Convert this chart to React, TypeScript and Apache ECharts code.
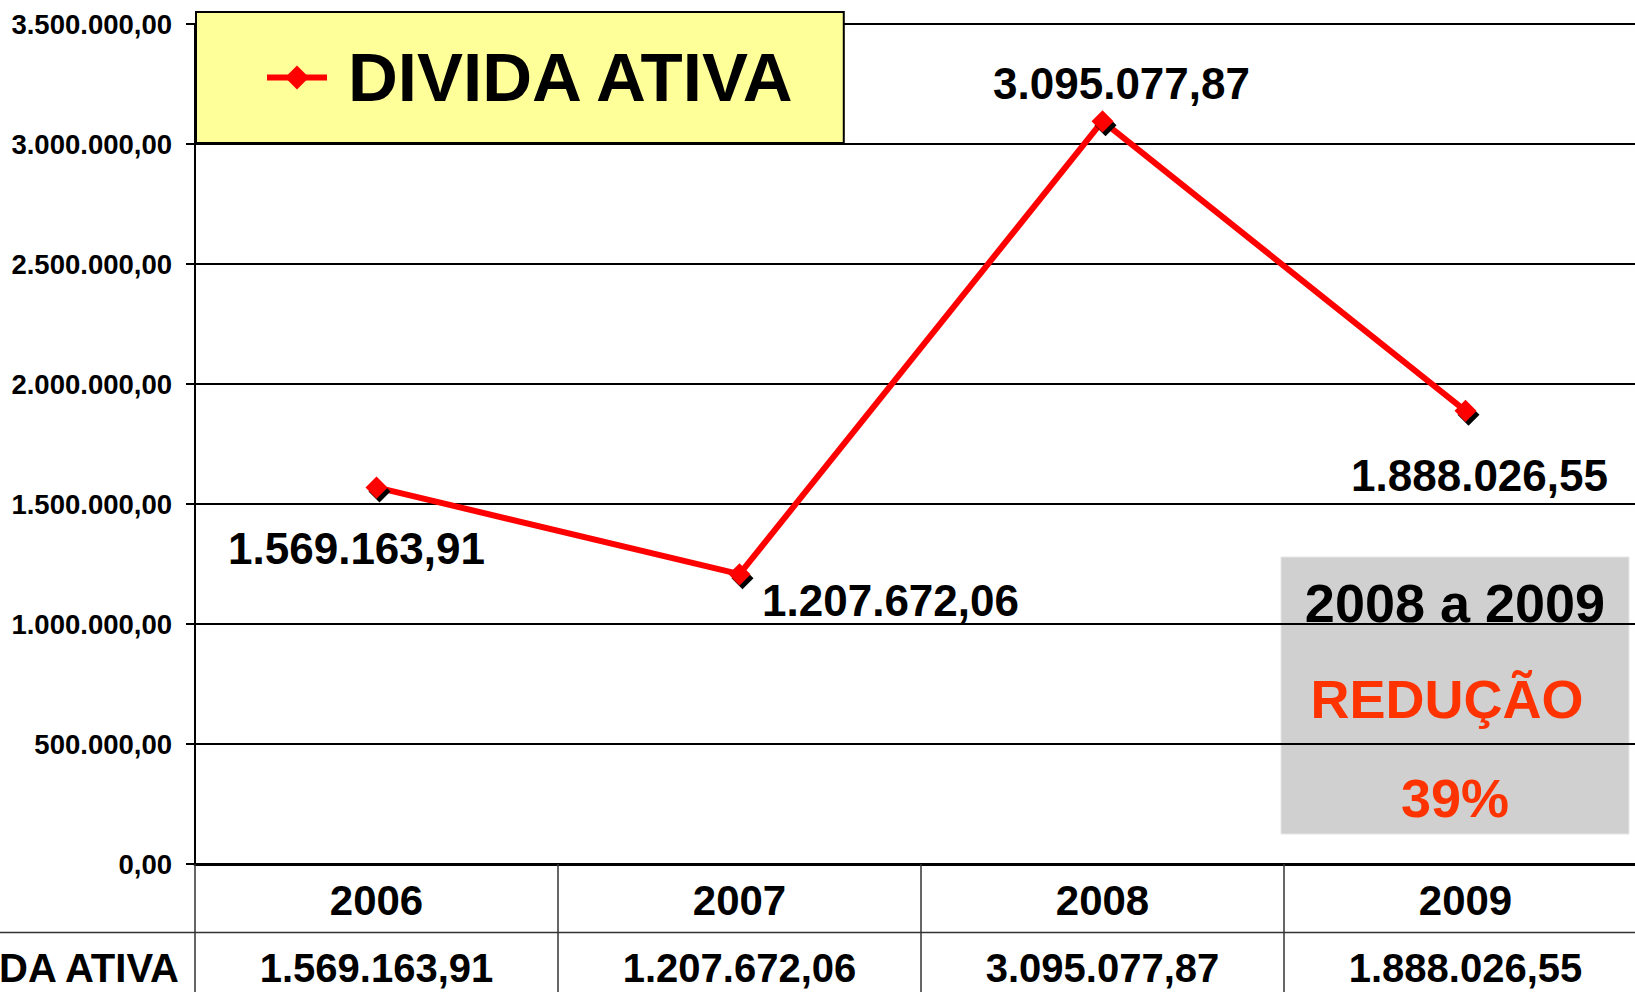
import React, { useEffect, useRef } from "react";
import * as echarts from "echarts";

const years = ["2006", "2007", "2008", "2009"];
const dividaAtiva = [1569163.91, 1207672.06, 3095077.87, 1888026.55];
const seriesName = "DIVIDA ATIVA";
const yMin = 0;
const yMax = 3500000;
const yInterval = 500000;
const noteLines = ["2008 a 2009", "REDUÇÃO", "39%"];

function fmtBR(v: number, decimals = 2): string {
  const neg = v < 0;
  const s = Math.abs(v).toFixed(decimals);
  const [intPart, dec] = s.split(".");
  const withDots = intPart.replace(/\B(?=(\d{3})+(?!\d))/g, ".");
  return (neg ? "-" : "") + withDots + (dec ? "," + dec : "");
}

const FONT = "'Liberation Sans', Arial, Helvetica, sans-serif";

export default function App() {
  const ref = useRef<HTMLDivElement>(null);

  useEffect(() => {
    if (!ref.current) return;
    const chart = echarts.init(ref.current, undefined, { renderer: "svg" });

    const labelOffsets: [number, number][] = [
      [-20, 61],
      [151, 26],
      [19, -38],
      [14, 65],
    ];

    const option: any = {
      animation: false,
      backgroundColor: "#ffffff",
      textStyle: { fontFamily: FONT },
      grid: { left: 195, top: 24, width: 1452, height: 840, containLabel: false },
      legend: {
        show: true,
        left: 196,
        top: 12,
        orient: "horizontal",
        backgroundColor: "#FFFF99",
        borderColor: "#000000",
        borderWidth: 2,
        borderRadius: 0,
        padding: [31, 46, 31, 68],
        itemWidth: 60,
        itemHeight: 30,
        lineStyle: { width: 6 },
        data: [seriesName],
        textStyle: {
          fontFamily: FONT,
          fontSize: 69,
          fontWeight: "bold",
          color: "#000000",
          lineHeight: 68,
          padding: [0, 0, 0, 16],
        },
      },
      xAxis: [
        {
          type: "category",
          data: years,
          boundaryGap: true,
          position: "bottom",
          axisLine: { show: true, lineStyle: { color: "#000000", width: 3 } },
          axisTick: {
            show: true,
            length: 130,
            inside: false,
            lineStyle: { color: "#333333", width: 1.5 },
          },
          axisLabel: {
            show: true,
            margin: 15,
            fontFamily: FONT,
            fontSize: 42,
            lineHeight: 42,
            fontWeight: "bold",
            color: "#000000",
          },
          splitLine: { show: false },
        },
        {
          type: "category",
          data: years,
          boundaryGap: true,
          position: "bottom",
          offset: 68,
          axisLine: { show: false },
          axisTick: { show: false },
          axisLabel: {
            show: true,
            margin: 21,
            fontFamily: FONT,
            fontSize: 40,
            lineHeight: 30,
            fontWeight: "bold",
            color: "#000000",
            formatter: (_v: string, idx: number) => fmtBR(dividaAtiva[idx]),
          },
          splitLine: { show: false },
        },
      ],
      yAxis: {
        type: "value",
        min: yMin,
        max: yMax,
        interval: yInterval,
        axisLine: { show: true, lineStyle: { color: "#000000", width: 2 } },
        axisTick: { show: true, length: 9, inside: false, lineStyle: { color: "#000000", width: 2 } },
        axisLabel: {
          show: true,
          margin: 23,
          fontFamily: FONT,
          fontSize: 27.5,
          fontWeight: "bold",
          color: "#000000",
          formatter: (v: number) => fmtBR(v),
        },
        splitLine: { show: true, lineStyle: { color: "#000000", width: 2 } },
      },
      series: [
        {
          name: seriesName,
          type: "line",
          xAxisIndex: 0,
          data: dividaAtiva.map((v, i) => ({
            value: v,
            label: { offset: labelOffsets[i] },
          })),
          symbol: "diamond",
          symbolSize: 22,
          lineStyle: { color: "#FF0000", width: 6 },
          itemStyle: {
            color: "#FF0000",
            shadowColor: "#000000",
            shadowBlur: 0,
            shadowOffsetX: 3,
            shadowOffsetY: 4,
          },
          label: {
            show: true,
            position: "inside",
            fontFamily: FONT,
            fontSize: 44,
            fontWeight: "bold",
            color: "#000000",
            formatter: (p: any) => fmtBR(p.value),
          },
          z: 5,
        },
      ],
      graphic: [
        {
          type: "line",
          z: 10,
          shape: { x1: 0, y1: 932.5, x2: 1700, y2: 932.5 },
          style: { stroke: "#333333", lineWidth: 1.5 },
        },
        {
          type: "text",
          z: 10,
          x: 179,
          y: 968,
          style: {
            text: seriesName,
            fontFamily: FONT,
            fontSize: 40,
            lineHeight: 30,
            fontWeight: "bold",
            fill: "#000000",
            align: "right",
            verticalAlign: "middle",
          },
        },
        {
          type: "group",
          z: 20,
          children: [
            {
              type: "rect",
              shape: { x: 1281, y: 557, width: 348, height: 277 },
              style: { fill: "#D0D0D0", stroke: "#E6E6E6", lineWidth: 1 },
            },
            {
              type: "text",
              x: 1455,
              y: 603,
              style: {
                text: noteLines[0],
                fontFamily: FONT,
                fontSize: 54,
                fontWeight: "bold",
                fill: "#000000",
                align: "center",
                verticalAlign: "middle",
              },
            },
            {
              type: "text",
              x: 1447,
              y: 699,
              style: {
                text: noteLines[1],
                fontFamily: FONT,
                fontSize: 54,
                fontWeight: "bold",
                fill: "#FF3300",
                align: "center",
                verticalAlign: "middle",
              },
            },
            {
              type: "text",
              x: 1455,
              y: 798,
              style: {
                text: noteLines[2],
                fontFamily: FONT,
                fontSize: 54,
                fontWeight: "bold",
                fill: "#FF3300",
                align: "center",
                verticalAlign: "middle",
              },
            },
          ],
        },
      ],
    };

    chart.setOption(option);
    return () => {
      chart.dispose();
    };
  }, []);

  return (
    <div
      style={{
        position: "absolute",
        left: 0,
        top: 0,
        width: 1635,
        height: 992,
        overflow: "hidden",
      }}
    >
      <div ref={ref} style={{ width: 1680, height: 992 }} />
    </div>
  );
}
